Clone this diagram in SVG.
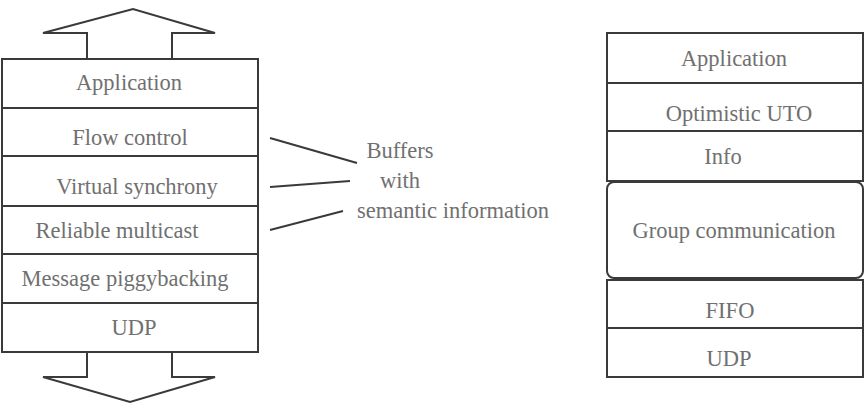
<svg xmlns="http://www.w3.org/2000/svg" width="868" height="407" viewBox="0 0 868 407">
<style>
.box{fill:#fff;stroke:#3a3a3a;stroke-width:2}
.ln{fill:none;stroke:#3a3a3a;stroke-width:2;stroke-linejoin:miter}
.t{font-size:22.5px;fill:#707070;text-anchor:middle}
</style>
<rect width="868" height="407" fill="#fff"/>
<g id="arrow-up"><path class="ln" d="M87,59 V33 H43 L133,9 L215,33 H172 V59"/></g>
<g id="arrow-down"><path class="ln" d="M87,352 V377 H43 L130,402 L215,377 H172 V352"/></g>
<g font-family="Liberation Serif, DejaVu Serif, serif">
<g id="l-application"><rect class="box" x="2" y="59" width="256" height="49"/><text class="t" x="129" y="90">Application</text></g>
<g id="l-flow"><rect class="box" x="2" y="108" width="256" height="48"/><text class="t" x="130" y="145">Flow control</text></g>
<g id="l-vsync"><rect class="box" x="2" y="156" width="256" height="50"/><text class="t" x="137" y="194">Virtual synchrony</text></g>
<g id="l-rmcast"><rect class="box" x="2" y="206" width="256" height="48"/><text class="t" x="117" y="238">Reliable multicast</text></g>
<g id="l-piggy"><rect class="box" x="2" y="254" width="256" height="49"/><text class="t" x="125" y="286">Message piggybacking</text></g>
<g id="l-udp"><rect class="box" x="2" y="303" width="256" height="49"/><text class="t" x="134" y="335">UDP</text></g>
<g id="connectors">
<line class="ln" x1="270" y1="138" x2="357" y2="163"/>
<line class="ln" x1="270" y1="187" x2="350" y2="181"/>
<line class="ln" x1="270" y1="230" x2="343" y2="211"/>
</g>
<g id="buffers-label">
<text class="t" x="400" y="158">Buffers</text>
<text class="t" x="400" y="188">with</text>
<text class="t" x="453" y="218">semantic information</text>
</g>
<g id="r-application"><rect class="box" x="607" y="33" width="256" height="50"/><text class="t" x="734" y="66">Application</text></g>
<g id="r-uto"><rect class="box" x="607" y="83" width="256" height="48"/><text class="t" x="739" y="121">Optimistic UTO</text></g>
<g id="r-info"><rect class="box" x="607" y="131" width="256" height="50"/><text class="t" x="723" y="164">Info</text></g>
<g id="r-group"><rect class="box" x="607" y="182" width="256" height="96" rx="7" ry="7"/><text class="t" x="734" y="238">Group communication</text></g>
<g id="r-fifo"><rect class="box" x="607" y="280" width="256" height="48"/><text class="t" x="730" y="318">FIFO</text></g>
<g id="r-udp"><rect class="box" x="607" y="328" width="256" height="49"/><text class="t" x="729" y="366">UDP</text></g>
</g>
</svg>
